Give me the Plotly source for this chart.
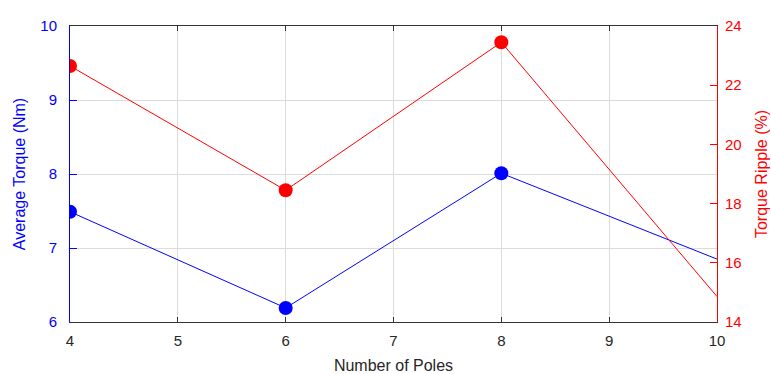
import plotly.graph_objects as go

# Motor design sweep: pole count vs. average torque and torque ripple
poles = [4, 6, 8, 10]
avg_torque = [7.49, 6.19, 8.01, 6.85]      # Nm
torque_ripple = [22.65, 18.45, 23.45, 14.86]  # %

x_ticks = [4, 5, 6, 7, 8, 9, 10]
left_ticks = [6, 7, 8, 9, 10]
right_ticks = [14, 16, 18, 20, 22, 24]

BLUE = "#0000ff"
RED = "#ff0000"
DARK = "#262626"
FRAME = "#333333"
GRID = "#dcdcdc"
FONT = "Liberation Sans, Arial, sans-serif"

# the last sample sits on the right axis edge, drawn without a marker
marker_sizes = [14, 14, 14, 0]

fig = go.Figure()
fig.add_trace(go.Scatter(
    x=poles, y=avg_torque, mode="lines+markers",
    line=dict(color=BLUE, width=1),
    marker=dict(color=BLUE, size=marker_sizes, opacity=1, line=dict(width=0)),
    yaxis="y", showlegend=False,
))
fig.add_trace(go.Scatter(
    x=poles, y=torque_ripple, mode="lines+markers",
    line=dict(color=RED, width=1),
    marker=dict(color=RED, size=marker_sizes, opacity=1, line=dict(width=0)),
    yaxis="y2", showlegend=False,
))

fig.update_layout(
    width=771, height=374,
    margin=dict(l=70, r=54, t=26, b=52),
    paper_bgcolor="white", plot_bgcolor="white",
    font=dict(family=FONT, size=15, color=DARK),
    xaxis=dict(
        range=[4, 10], tickvals=x_ticks, automargin=False,
        ticks="inside", ticklen=5, tickcolor=FRAME, tickwidth=1,
        showline=True, linecolor=FRAME, linewidth=1, mirror="ticks",
        showgrid=True, gridcolor=GRID, gridwidth=1,
        zeroline=False,
        tickfont=dict(size=15, color=DARK),
        ticklabelstandoff=5,
        title=dict(text="Number of Poles", font=dict(size=16, color=DARK), standoff=14),
    ),
    yaxis=dict(
        range=[6, 10], tickvals=left_ticks, automargin=False,
        ticks="inside", ticklen=7, tickcolor=BLUE, tickwidth=1,
        showline=True, linecolor=BLUE, linewidth=1,
        showgrid=True, gridcolor=GRID, gridwidth=1,
        zeroline=False,
        tickfont=dict(size=15, color=BLUE),
        ticklabelstandoff=9,
        title=dict(text="Average Torque (Nm)", font=dict(size=16, color=BLUE), standoff=10),
    ),
    yaxis2=dict(
        range=[14, 24], tickvals=right_ticks, automargin=False,
        overlaying="y", side="right", anchor="x",
        ticks="inside", ticklen=7, tickcolor=RED, tickwidth=1,
        showline=True, linecolor=RED, linewidth=1,
        showgrid=False, zeroline=False,
        tickfont=dict(size=15, color=RED),
        ticklabelstandoff=4,
        title=dict(text="Torque Ripple (%)", font=dict(size=16, color=RED), standoff=15),
    ),
)

fig.write_html("out.html")
